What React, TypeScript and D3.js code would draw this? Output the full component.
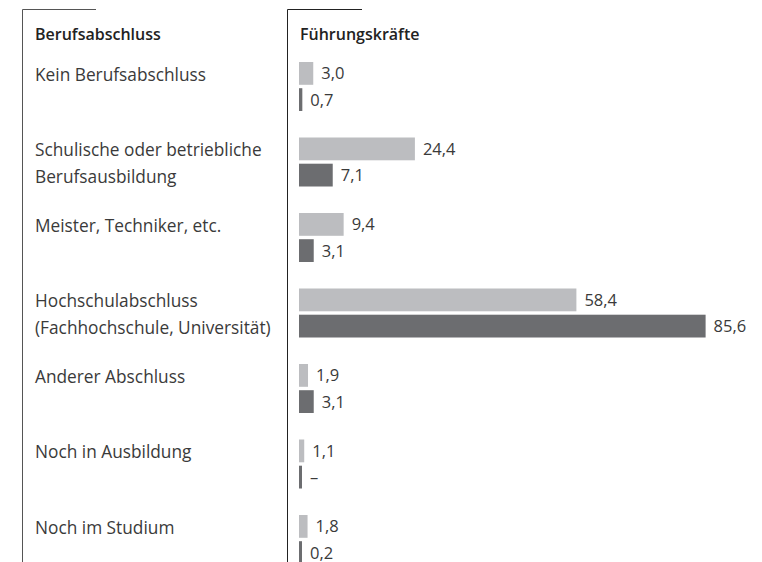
import * as d3 from "d3";
import * as React from "react";

const categories: string[][] = [
  ["Kein Berufsabschluss"],
  ["Schulische oder betriebliche", "Berufsausbildung"],
  ["Meister, Techniker, etc."],
  ["Hochschulabschluss", "(Fachhochschule, Universität)"],
  ["Anderer Abschluss"],
  ["Noch in Ausbildung"],
  ["Noch im Studium"],
];
const seriesLight: (number | null)[] = [3.0, 24.4, 9.4, 58.4, 1.9, 1.1, 1.8];
const seriesDark: (number | null)[] = [0.7, 7.1, 3.1, 85.6, 3.1, null, 0.2];
const headerLeft = "Berufsabschluss";
const headerRight = "Führungskräfte";

const W = 762;
const H = 562;
const FONT = "'Open Sans', 'Noto Sans', sans-serif";
const TEXT = "#3a3a3a";
const LIGHT = "#bcbdc0";
const DARK = "#6c6d70";

const de = d3.formatLocale({ decimal: ",", thousands: ".", grouping: [3], currency: ["", " €"] });
const fmt = de.format(".1f");

export default function App() {
  const ids = categories.map((_, i) => String(i));
  const y = d3.scaleBand<string>().domain(ids).range([62, 62 + 75.5 * ids.length]);
  const sub = d3.scaleBand<string>().domain(["light", "dark"]).range([0, 49]).paddingInner(0.13);
  const x = d3.scaleLinear().domain([0, 100]).range([299, 299 + 475]);

  const barW = (v: number | null) => Math.max(3, x(v ?? 0) - x(0));

  return (
    <div style={{ position: "fixed", left: 0, top: 0 }}>
      <svg width={W} height={H} style={{ display: "block", background: "#fff" }} fontFamily={FONT}>
        {/* frames */}
        <path d={`M96,9.5H22.5V${H}`} fill="none" stroke="#555" strokeWidth={1} />
        <path d={`M362,9.5H287.5V${H}`} fill="none" stroke="#222" strokeWidth={1} />

        <text x={35} y={40} fontSize={16} fontWeight={600} fill="#222">{headerLeft}</text>
        <text x={300} y={40} fontSize={16} fontWeight={600} fill="#222">{headerRight}</text>

        {categories.map((lines, i) => {
          const top = y(String(i))!;
          return (
            <g key={i}>
              {lines.map((l, j) => (
                <text key={j} x={35} y={top + 18.5 + j * 26.5} fontSize={17.3} fontWeight={400} fill={TEXT}>
                  {l}
                </text>
              ))}
              {([["light", seriesLight[i], LIGHT], ["dark", seriesDark[i], DARK]] as [string, number | null, string][]).map(
                ([k, v, c]) => {
                  const by = top + sub(k)!;
                  const w = barW(v);
                  return (
                    <g key={k}>
                      <rect x={x(0)} y={by} width={w} height={sub.bandwidth()} fill={c} />
                      <text
                        x={x(0) + w + 8}
                        y={by + sub.bandwidth() / 2 + 6}
                        fontSize={16.5}
                        fontWeight={400}
                        fill={TEXT}
                      >
                        {v == null ? "–" : fmt(v)}
                      </text>
                    </g>
                  );
                }
              )}
            </g>
          );
        })}
      </svg>
    </div>
  );
}
